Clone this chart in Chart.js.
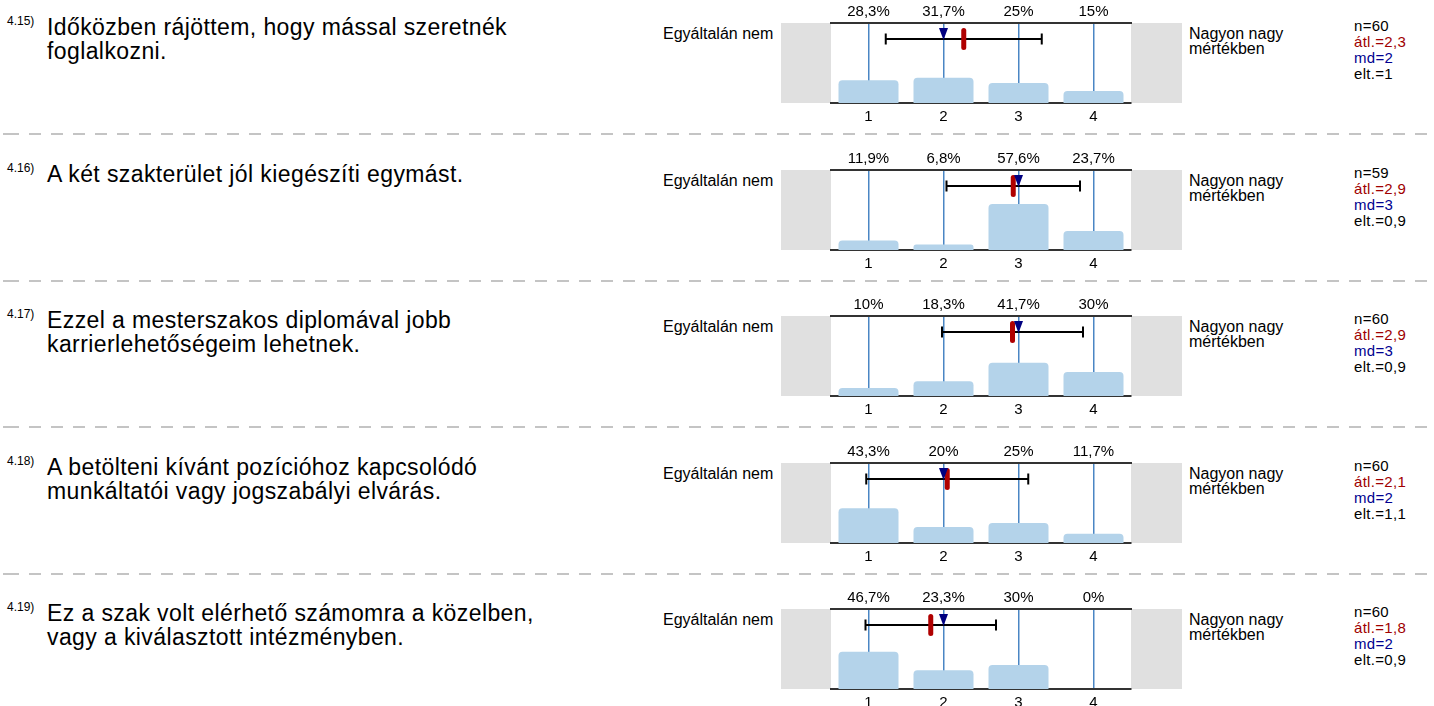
<!DOCTYPE html>
<html>
<head>
<meta charset="utf-8">
<script src="https://cdn.jsdelivr.net/npm/chart.js@4.4.0/dist/chart.umd.min.js"></script>
<style>
  html, body { margin: 0; padding: 0; background: #fff; }
  body {
    width: 1434px; height: 706px; position: relative; overflow: hidden;
    font-family: Arial, "Liberation Sans", sans-serif; color: #000;
  }
  .row { position: absolute; left: 0; width: 1434px; height: 146px; }
  .num { position: absolute; left: 7px; top: 15px; font-size: 12px; line-height: 12px; }
  .question {
    position: absolute; left: 47px; top: 15px; font-size: 23px; line-height: 24px;
    letter-spacing: 0.4px; white-space: nowrap;
  }
  .lo { position: absolute; left: 663px; top: 26px; font-size: 16px; line-height: 15px; }
  .hi { position: absolute; left: 1189px; top: 26px; font-size: 16px; line-height: 15px; }
  .stats {
    position: absolute; left: 1354px; top: 18px; font-size: 15px; line-height: 16px;
    letter-spacing: 0.3px;
  }
  .stats .avg { color: #a00000; }
  .stats .med { color: #000090; }
  .plot { position: absolute; left: 781px; top: 0; width: 401px; height: 125px; }
  .sep {
    position: absolute; left: 0; top: 133px; width: 1434px; height: 2px;
    background: repeating-linear-gradient(to right, #c4c4c4 0 12px, transparent 12px 22px);
    background-position: 7px 0;
  }
</style>
</head>
<body>
<script>
const questionIds = ["4.15)", "4.16)", "4.17)", "4.18)", "4.19)"];
const questionTexts = [
  ["Időközben rájöttem, hogy mással szeretnék", "foglalkozni."],
  ["A két szakterület jól kiegészíti egymást."],
  ["Ezzel a mesterszakos diplomával jobb", "karrierlehetőségeim lehetnek."],
  ["A betölteni kívánt pozícióhoz kapcsolódó", "munkáltatói vagy jogszabályi elvárás."],
  ["Ez a szak volt elérhető számomra a közelben,", "vagy a kiválasztott intézményben."]
];
const scaleLabels = ["1", "2", "3", "4"];
const lowLabel = ["Egyáltalán nem"];
const highLabel = ["Nagyon nagy", "mértékben"];

// answer shares in percent, one list per question
const shares = [
  [28.3, 31.7, 25, 15],
  [11.9, 6.8, 57.6, 23.7],
  [10, 18.3, 41.7, 30],
  [43.3, 20, 25, 11.7],
  [46.7, 23.3, 30, 0]
];
const counts = [60, 59, 60, 60, 60];
const means = [2.27, 2.93, 2.92, 2.05, 1.83];
const medians = [2, 3, 3, 2, 2];
const stdDevs = [1.04, 0.89, 0.94, 1.08, 0.87];

const ROW_STEP = 146.5;
const FONT = "Arial, 'Liberation Sans', sans-serif";

// 1 decimal, comma separator, no trailing ",0"
const fmt = v => String(Math.round(v * 10 + 1e-6) / 10).replace(".", ",");

// grey end blocks on both sides of the plot area
const sidePanels = {
  id: "sidePanels",
  beforeDraw(chart) {
    const { ctx, chartArea: a, width } = chart;
    ctx.save();
    ctx.fillStyle = "#e0e0e0";
    ctx.fillRect(0, a.top, a.left, a.bottom - a.top);
    ctx.fillRect(a.right, a.top, width - a.right, a.bottom - a.top);
    ctx.restore();
  }
};

// mean (red), +-1 sd whisker (black) and median (blue triangle)
const summaryMarks = {
  id: "summaryMarks",
  afterDraw(chart, args, opts) {
    const { ctx, chartArea: a, scales: { x } } = chart;
    const px = v => x.getPixelForValue(v - 1);
    const yw = a.top + 16;
    const lo = px(opts.mean - opts.sd);
    const hi = px(opts.mean + opts.sd);
    ctx.save();
    ctx.strokeStyle = "#000";
    ctx.lineWidth = 2;
    ctx.beginPath();
    ctx.moveTo(lo, yw); ctx.lineTo(hi, yw);
    ctx.moveTo(lo, yw - 5.5); ctx.lineTo(lo, yw + 5.5);
    ctx.moveTo(hi, yw - 5.5); ctx.lineTo(hi, yw + 5.5);
    ctx.stroke();

    const mx = px(opts.mean);
    ctx.strokeStyle = "#b00000";
    ctx.lineWidth = 5;
    ctx.lineCap = "round";
    ctx.beginPath();
    ctx.moveTo(mx, a.top + 7.5);
    ctx.lineTo(mx, a.top + 24.5);
    ctx.stroke();

    const md = px(opts.median);
    ctx.fillStyle = "#000080";
    ctx.beginPath();
    ctx.moveTo(md - 4.5, a.top + 5);
    ctx.lineTo(md + 4.5, a.top + 5);
    ctx.lineTo(md, a.top + 17);
    ctx.closePath();
    ctx.fill();
    ctx.restore();
  }
};

function addRow(i) {
  const row = document.createElement("div");
  row.className = "row";
  row.style.top = Math.round(i * ROW_STEP) + "px";
  row.innerHTML =
    `<div class="num">${questionIds[i]}</div>` +
    `<div class="question">${questionTexts[i].join("<br>")}</div>` +
    `<div class="lo">${lowLabel.join("<br>")}</div>` +
    `<div class="hi">${highLabel.join("<br>")}</div>` +
    `<div class="stats">n=${counts[i]}<br><span class="avg">átl.=${fmt(means[i])}</span><br>` +
    `<span class="med">md=${fmt(medians[i])}</span><br>elt.=${fmt(stdDevs[i])}</div>` +
    `<canvas class="plot" width="401" height="125"></canvas>` +
    (i < questionIds.length - 1 ? `<div class="sep"></div>` : "");
  document.body.appendChild(row);

  const tickFont = { family: FONT, size: 15 };
  new Chart(row.querySelector("canvas"), {
    type: "bar",
    data: {
      labels: scaleLabels,
      datasets: [{
        data: shares[i],
        backgroundColor: "#b4d3ea",
        borderRadius: { topLeft: 4, topRight: 4 },
        borderSkipped: "bottom",
        barPercentage: 0.8,
        categoryPercentage: 1
      }]
    },
    options: {
      responsive: false,
      animation: false,
      events: [],
      layout: { padding: { left: 50, right: 51, top: 0, bottom: 0 } },
      plugins: {
        legend: { display: false },
        tooltip: { enabled: false },
        summaryMarks: { mean: means[i], sd: stdDevs[i], median: medians[i] }
      },
      scales: {
        x: {
          position: "bottom",
          offset: true,
          z: 1,
          grid: { offset: false, color: "#4a86c4", lineWidth: 1.5, drawTicks: false },
          border: { color: "#333", width: 2 },
          ticks: { padding: 5, color: "#000", font: tickFont },
          afterFit: s => { s.height = 22; }
        },
        pct: {
          type: "category",
          position: "top",
          labels: shares[i].map(v => fmt(v) + "%"),
          offset: true,
          grid: { display: false, drawTicks: false },
          border: { color: "#333", width: 2 },
          ticks: { padding: 2, color: "#000", font: tickFont },
          afterFit: s => { s.height = 23; }
        },
        y: { display: false, min: 0, max: 100 }
      }
    },
    plugins: [sidePanels, summaryMarks]
  });
}

questionIds.forEach((_, i) => addRow(i));
</script>
</body>
</html>
